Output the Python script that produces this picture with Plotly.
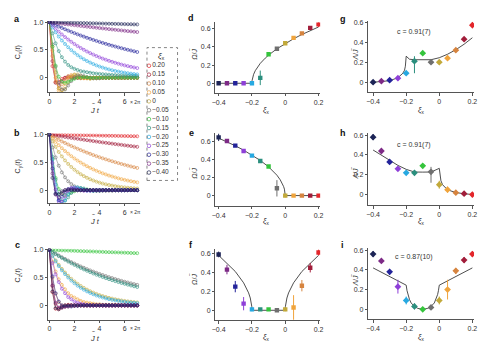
import numpy as np
import plotly.graph_objects as go

# ---------------------------------------------------------------- data
XI = [0.20, 0.15, 0.10, 0.05, 0.0, -0.05, -0.10, -0.15, -0.20, -0.25, -0.30, -0.35, -0.40]
XI_LABELS = ["0.20", "0.15", "0.10", "0.05", "0", "−0.05", "−0.10", "−0.15",
             "−0.20", "−0.25", "−0.30", "−0.35", "−0.40"]
COLORS = ["#e3262b", "#a11d3a", "#d6843f", "#f0a43c", "#c2a93a", "#6f6f6f", "#35c43c",
          "#2b8f7e", "#27a9e1", "#8e3fd8", "#23239a", "#7d2a86", "#1c2456"]

# time grid in units of 2π/J̃
T = np.arange(0, 7.0001, 0.25)

# C_x(t) for each ξ_x (same order as XI)
CX = [
    [1.00, 0.21, -0.08, -0.07, -0.02, 0.00, 0.00, 0.00, 0.00, 0.00, 0.00, 0.00, 0.00, 0.00, 0.00, 0.00, 0.00, 0.00, 0.00, 0.00, 0.00, 0.00, 0.00, 0.00, 0.00, 0.00, 0.00, 0.00, 0.00],
    [1.00, 0.30, -0.09, -0.13, -0.06, 0.00, 0.02, 0.01, 0.00, 0.00, 0.00, 0.00, 0.00, 0.00, 0.00, 0.00, 0.00, 0.00, 0.00, 0.00, 0.00, 0.00, 0.00, 0.00, 0.00, 0.00, 0.00, 0.00, 0.00],
    [1.00, 0.39, -0.07, -0.19, -0.12, -0.03, 0.03, 0.03, 0.01, 0.00, -0.01, 0.00, 0.00, 0.00, 0.00, 0.00, 0.00, 0.00, 0.00, 0.00, 0.00, 0.00, 0.00, 0.00, 0.00, 0.00, 0.00, 0.00, 0.00],
    [1.00, 0.49, 0.00, -0.23, -0.22, -0.11, 0.00, 0.05, 0.05, 0.02, 0.00, -0.01, -0.01, -0.01, 0.00, 0.00, 0.00, 0.00, 0.00, 0.00, 0.00, 0.00, 0.00, 0.00, 0.00, 0.00, 0.00, 0.00, 0.00],
    [1.00, 0.56, 0.10, -0.19, -0.27, -0.20, -0.08, 0.01, 0.06, 0.06, 0.04, 0.01, -0.01, -0.02, -0.01, -0.01, 0.00, 0.00, 0.00, 0.00, 0.00, 0.00, 0.00, 0.00, 0.00, 0.00, 0.00, 0.00, 0.00],
    [1.00, 0.60, 0.20, -0.09, -0.21, -0.21, -0.14, -0.06, 0.01, 0.04, 0.04, 0.03, 0.01, 0.00, -0.01, -0.01, -0.01, 0.00, 0.00, 0.00, 0.00, 0.00, 0.00, 0.00, 0.00, 0.00, 0.00, 0.00, 0.00],
    [1.00, 0.56, 0.22, 0.02, -0.07, -0.09, -0.07, -0.04, -0.02, 0.00, 0.00, 0.01, 0.01, 0.00, 0.00, 0.00, 0.00, 0.00, 0.00, 0.00, 0.00, 0.00, 0.00, 0.00, 0.00, 0.00, 0.00, 0.00, 0.00],
    [1.00, 0.80, 0.62, 0.48, 0.37, 0.29, 0.23, 0.19, 0.16, 0.14, 0.12, 0.11, 0.10, 0.09, 0.08, 0.075, 0.07, 0.065, 0.06, 0.055, 0.05, 0.048, 0.045, 0.042, 0.04, 0.038, 0.036, 0.034, 0.032],
    [1.00, 0.905, 0.819, 0.741, 0.670, 0.607, 0.549, 0.497, 0.449, 0.407, 0.368, 0.333, 0.301, 0.273, 0.247, 0.223, 0.202, 0.183, 0.165, 0.150, 0.135, 0.122, 0.111, 0.100, 0.091, 0.082, 0.074, 0.067, 0.061],
    [1.00, 0.939, 0.882, 0.829, 0.779, 0.732, 0.687, 0.646, 0.607, 0.570, 0.535, 0.503, 0.472, 0.444, 0.417, 0.391, 0.368, 0.345, 0.325, 0.305, 0.287, 0.269, 0.253, 0.237, 0.223, 0.210, 0.197, 0.185, 0.174],
    [1.00, 0.973, 0.947, 0.921, 0.896, 0.872, 0.848, 0.825, 0.803, 0.781, 0.760, 0.740, 0.719, 0.700, 0.681, 0.663, 0.644, 0.627, 0.610, 0.593, 0.577, 0.562, 0.546, 0.532, 0.517, 0.503, 0.490, 0.476, 0.463],
    [1.00, 0.993, 0.986, 0.979, 0.972, 0.965, 0.959, 0.952, 0.946, 0.939, 0.932, 0.926, 0.919, 0.913, 0.907, 0.900, 0.894, 0.888, 0.882, 0.875, 0.869, 0.863, 0.857, 0.851, 0.845, 0.839, 0.834, 0.828, 0.822],
    [1.00, 0.998, 0.997, 0.996, 0.994, 0.993, 0.991, 0.990, 0.988, 0.987, 0.985, 0.984, 0.982, 0.981, 0.979, 0.978, 0.976, 0.975, 0.973, 0.972, 0.970, 0.969, 0.968, 0.966, 0.965, 0.963, 0.962, 0.960, 0.959],
]

# C_y(t)
CY = [
    [1.00, 0.999, 0.998, 0.997, 0.996, 0.994, 0.993, 0.992, 0.991, 0.990, 0.989, 0.988, 0.987, 0.986, 0.985, 0.984, 0.982, 0.981, 0.980, 0.979, 0.978, 0.977, 0.976, 0.975, 0.974, 0.973, 0.971, 0.970, 0.969],
    [1.00, 0.991, 0.982, 0.974, 0.965, 0.957, 0.948, 0.940, 0.931, 0.923, 0.915, 0.907, 0.899, 0.891, 0.883, 0.875, 0.867, 0.859, 0.852, 0.844, 0.837, 0.829, 0.822, 0.815, 0.807, 0.800, 0.793, 0.786, 0.780],
    [1.00, 0.968, 0.937, 0.906, 0.877, 0.849, 0.822, 0.795, 0.770, 0.745, 0.721, 0.698, 0.675, 0.654, 0.632, 0.612, 0.592, 0.573, 0.555, 0.537, 0.520, 0.503, 0.487, 0.471, 0.456, 0.441, 0.427, 0.413, 0.400],
    [1.00, 0.932, 0.869, 0.810, 0.755, 0.704, 0.656, 0.612, 0.570, 0.532, 0.496, 0.462, 0.431, 0.401, 0.374, 0.349, 0.325, 0.303, 0.283, 0.263, 0.246, 0.229, 0.213, 0.199, 0.185, 0.173, 0.161, 0.150, 0.140],
    [1.00, 0.882, 0.779, 0.687, 0.607, 0.535, 0.472, 0.417, 0.368, 0.325, 0.287, 0.253, 0.223, 0.197, 0.174, 0.153, 0.135, 0.119, 0.105, 0.093, 0.082, 0.072, 0.064, 0.056, 0.050, 0.044, 0.039, 0.034, 0.030],
    [1.00, 0.77, 0.59, 0.44, 0.32, 0.23, 0.16, 0.11, 0.07, 0.05, 0.03, 0.01, 0.00, 0.00, -0.01, -0.01, -0.01, -0.01, -0.01, -0.01, -0.01, 0.00, 0.00, 0.00, 0.00, 0.00, 0.00, 0.00, 0.00],
    [1.00, 0.56, 0.22, 0.02, -0.07, -0.09, -0.07, -0.04, -0.02, 0.00, 0.00, 0.01, 0.01, 0.00, 0.00, 0.00, 0.00, 0.00, 0.00, 0.00, 0.00, 0.00, 0.00, 0.00, 0.00, 0.00, 0.00, 0.00, 0.00],
    [1.00, 0.60, 0.19, -0.08, -0.20, -0.19, -0.13, -0.05, 0.01, 0.03, 0.04, 0.03, 0.01, 0.00, -0.01, -0.01, -0.01, 0.00, 0.00, 0.00, 0.00, 0.00, 0.00, 0.00, 0.00, 0.00, 0.00, 0.00, 0.00],
    [1.00, 0.55, 0.10, -0.18, -0.25, -0.18, -0.07, 0.01, 0.05, 0.05, 0.03, 0.01, -0.01, -0.01, -0.01, 0.00, 0.00, 0.00, 0.00, 0.00, 0.00, 0.00, 0.00, 0.00, 0.00, 0.00, 0.00, 0.00, 0.00],
    [1.00, 0.49, 0.01, -0.21, -0.21, -0.11, -0.01, 0.04, 0.04, 0.02, 0.00, -0.01, -0.01, -0.01, 0.00, 0.00, 0.00, 0.00, 0.00, 0.00, 0.00, 0.00, 0.00, 0.00, 0.00, 0.00, 0.00, 0.00, 0.00],
    [1.00, 0.39, -0.06, -0.18, -0.12, -0.03, 0.02, 0.03, 0.01, 0.00, 0.00, 0.00, 0.00, 0.00, 0.00, 0.00, 0.00, 0.00, 0.00, 0.00, 0.00, 0.00, 0.00, 0.00, 0.00, 0.00, 0.00, 0.00, 0.00],
    [1.00, 0.30, -0.08, -0.13, -0.05, 0.00, 0.01, 0.01, 0.00, 0.00, 0.00, 0.00, 0.00, 0.00, 0.00, 0.00, 0.00, 0.00, 0.00, 0.00, 0.00, 0.00, 0.00, 0.00, 0.00, 0.00, 0.00, 0.00, 0.00],
    [1.00, 0.22, -0.07, -0.07, -0.02, 0.00, 0.01, 0.00, 0.00, 0.00, 0.00, 0.00, 0.00, 0.00, 0.00, 0.00, 0.00, 0.00, 0.00, 0.00, 0.00, 0.00, 0.00, 0.00, 0.00, 0.00, 0.00, 0.00, 0.00],
]

# C_z(t)
CZ = [
    [1.00, 0.24, -0.06, -0.07, -0.02, 0.00, 0.01, 0.00, 0.00, 0.00, 0.00, 0.00, 0.00, 0.00, 0.00, 0.00, 0.00, 0.00, 0.00, 0.00, 0.00, 0.00, 0.00, 0.00, 0.00, 0.00, 0.00, 0.00, 0.00],
    [1.00, 0.35, 0.03, -0.05, -0.04, -0.02, 0.00, 0.00, 0.00, 0.00, 0.00, 0.00, 0.00, 0.00, 0.00, 0.00, 0.00, 0.00, 0.00, 0.00, 0.00, 0.00, 0.00, 0.00, 0.00, 0.00, 0.00, 0.00, 0.00],
    [1.00, 0.50, 0.21, 0.06, 0.00, -0.02, -0.02, -0.01, -0.01, 0.00, 0.00, 0.00, 0.00, 0.00, 0.00, 0.00, 0.00, 0.00, 0.00, 0.00, 0.00, 0.00, 0.00, 0.00, 0.00, 0.00, 0.00, 0.00, 0.00],
    [1.00, 0.78, 0.61, 0.47, 0.37, 0.29, 0.22, 0.17, 0.14, 0.11, 0.08, 0.06, 0.05, 0.04, 0.03, 0.02, 0.02, 0.01, 0.01, 0.01, 0.01, 0.01, 0.00, 0.00, 0.00, 0.00, 0.00, 0.00, 0.00],
    [1.00, 0.900, 0.811, 0.730, 0.657, 0.592, 0.533, 0.479, 0.432, 0.389, 0.350, 0.315, 0.284, 0.255, 0.230, 0.207, 0.186, 0.168, 0.151, 0.136, 0.122, 0.110, 0.099, 0.089, 0.080, 0.072, 0.065, 0.059, 0.053],
    [1.00, 0.965, 0.932, 0.899, 0.868, 0.837, 0.808, 0.780, 0.753, 0.727, 0.701, 0.677, 0.653, 0.630, 0.608, 0.587, 0.567, 0.547, 0.528, 0.509, 0.492, 0.474, 0.458, 0.442, 0.426, 0.412, 0.397, 0.383, 0.370],
    [1.00, 0.998, 0.996, 0.993, 0.991, 0.989, 0.987, 0.985, 0.983, 0.980, 0.978, 0.976, 0.974, 0.972, 0.970, 0.968, 0.965, 0.963, 0.961, 0.959, 0.957, 0.955, 0.953, 0.951, 0.949, 0.947, 0.944, 0.942, 0.940],
    [1.00, 0.961, 0.924, 0.888, 0.854, 0.821, 0.789, 0.758, 0.729, 0.701, 0.674, 0.648, 0.623, 0.599, 0.575, 0.553, 0.532, 0.511, 0.491, 0.472, 0.454, 0.437, 0.420, 0.403, 0.388, 0.373, 0.358, 0.344, 0.331],
    [1.00, 0.891, 0.794, 0.708, 0.631, 0.563, 0.502, 0.447, 0.399, 0.355, 0.317, 0.282, 0.252, 0.224, 0.200, 0.178, 0.159, 0.142, 0.126, 0.112, 0.100, 0.089, 0.080, 0.071, 0.063, 0.056, 0.050, 0.045, 0.040],
    [1.00, 0.76, 0.56, 0.42, 0.30, 0.22, 0.15, 0.11, 0.07, 0.05, 0.03, 0.02, 0.01, 0.00, 0.00, 0.00, 0.00, 0.00, 0.00, 0.00, 0.00, 0.00, 0.00, 0.00, 0.00, 0.00, 0.00, 0.00, 0.00],
    [1.00, 0.52, 0.22, 0.07, 0.00, -0.02, -0.02, -0.02, -0.01, -0.01, 0.00, 0.00, 0.00, 0.00, 0.00, 0.00, 0.00, 0.00, 0.00, 0.00, 0.00, 0.00, 0.00, 0.00, 0.00, 0.00, 0.00, 0.00, 0.00],
    [1.00, 0.36, 0.05, -0.04, -0.04, -0.02, -0.01, 0.00, 0.00, 0.00, 0.00, 0.00, 0.00, 0.00, 0.00, 0.00, 0.00, 0.00, 0.00, 0.00, 0.00, 0.00, 0.00, 0.00, 0.00, 0.00, 0.00, 0.00, 0.00],
    [1.00, 0.25, -0.05, -0.07, -0.03, 0.00, 0.00, 0.00, 0.00, 0.00, 0.00, 0.00, 0.00, 0.00, 0.00, 0.00, 0.00, 0.00, 0.00, 0.00, 0.00, 0.00, 0.00, 0.00, 0.00, 0.00, 0.00, 0.00, 0.00],
]

# oscillation frequencies Ω/J̃ (same ξ order) and their errors
OMEGA_X = [0.65, 0.61, 0.55, 0.50, 0.44, 0.38, 0.32, 0.06, 0.00, 0.00, 0.00, 0.00, 0.00]
OMEGA_X_ERR = [0.03, 0.02, 0.01, 0.01, 0.01, 0.01, 0.01, 0.08, 0.02, 0.01, 0.01, 0.01, 0.01]
OMEGA_Y = [0.00, 0.00, 0.00, 0.00, 0.00, 0.08, 0.32, 0.38, 0.44, 0.49, 0.55, 0.60, 0.64]
OMEGA_Y_ERR = [0.01, 0.01, 0.01, 0.01, 0.02, 0.09, 0.01, 0.01, 0.01, 0.01, 0.01, 0.01, 0.04]
OMEGA_Z = [0.61, 0.45, 0.26, 0.03, 0.01, 0.00, 0.01, 0.01, 0.01, 0.07, 0.25, 0.43, 0.59]
OMEGA_Z_ERR = [0.03, 0.05, 0.06, 0.13, 0.02, 0.01, 0.01, 0.01, 0.02, 0.07, 0.06, 0.05, 0.03]

# decay rates Λ/J̃ and their errors (upper, lower)
LAMBDA_X = [0.57, 0.43, 0.32, 0.24, 0.20, 0.20, 0.29, 0.21, 0.09, 0.04, 0.02, 0.01, 0.00]
LAMBDA_X_ERR_UP = [0.03, 0.02, 0.02, 0.01, 0.01, 0.01, 0.01, 0.05, 0.02, 0.01, 0.01, 0.01, 0.01]
LAMBDA_X_ERR_DN = [0.03, 0.02, 0.02, 0.01, 0.01, 0.01, 0.01, 0.12, 0.02, 0.01, 0.01, 0.01, 0.01]
LAMBDA_Y = [0.00, 0.01, 0.02, 0.05, 0.10, 0.23, 0.29, 0.22, 0.22, 0.26, 0.33, 0.44, 0.58]
LAMBDA_Y_ERR_UP = [0.01, 0.01, 0.01, 0.03, 0.04, 0.05, 0.01, 0.01, 0.01, 0.01, 0.01, 0.02, 0.03]
LAMBDA_Y_ERR_DN = [0.01, 0.01, 0.01, 0.03, 0.04, 0.11, 0.01, 0.01, 0.01, 0.01, 0.01, 0.02, 0.03]
LAMBDA_Z = [0.56, 0.50, 0.39, 0.20, 0.09, 0.02, 0.00, 0.03, 0.09, 0.23, 0.38, 0.49, 0.56]
LAMBDA_Z_ERR = [0.03, 0.03, 0.03, 0.10, 0.04, 0.01, 0.01, 0.03, 0.04, 0.07, 0.03, 0.02, 0.03]

# theory curves
TH_OX_XI = [-0.40, -0.20, -0.199, -0.195, -0.19, -0.18, -0.17, -0.15, -0.12, -0.10, -0.05, 0.0, 0.05, 0.10, 0.15, 0.20]
TH_OX = [0.0, 0.0, 0.031, 0.069, 0.098, 0.139, 0.170, 0.219, 0.277, 0.310, 0.380, 0.438, 0.490, 0.537, 0.580, 0.620]
TH_OY_XI = [-0.40, -0.35, -0.30, -0.25, -0.20, -0.15, -0.10, -0.05, -0.03, -0.02, -0.01, -0.005, -0.001, 0.0, 0.20]
TH_OY = [0.632, 0.592, 0.548, 0.500, 0.447, 0.387, 0.316, 0.224, 0.173, 0.141, 0.100, 0.071, 0.032, 0.0, 0.0]
TH_OZ_XI = [-0.40, -0.35, -0.30, -0.25, -0.23, -0.22, -0.21, -0.205, -0.201, -0.20, 0.0, 0.001, 0.005, 0.01, 0.02, 0.03, 0.05, 0.10, 0.15, 0.20]
TH_OZ = [0.58, 0.50, 0.41, 0.29, 0.225, 0.184, 0.13, 0.092, 0.041, 0.0, 0.0, 0.041, 0.092, 0.13, 0.184, 0.225, 0.29, 0.41, 0.50, 0.58]
TH_LX_XI = [-0.40, -0.35, -0.30, -0.25, -0.22, -0.21, -0.205, -0.20, -0.18, -0.15, -0.10, -0.05, 0.0, 0.05, 0.10, 0.15, 0.20]
TH_LX = [0.0, 0.004, 0.015, 0.045, 0.09, 0.12, 0.16, 0.26, 0.23, 0.225, 0.225, 0.225, 0.245, 0.28, 0.325, 0.38, 0.445]
TH_LY_XI = [-0.40, -0.35, -0.30, -0.25, -0.20, -0.15, -0.10, -0.05, 0.0, 0.005, 0.01, 0.02, 0.04, 0.07, 0.10, 0.15, 0.20]
TH_LY = [0.45, 0.40, 0.35, 0.295, 0.255, 0.228, 0.227, 0.228, 0.265, 0.18, 0.14, 0.10, 0.065, 0.037, 0.022, 0.008, 0.002]
TH_LZ_XI = [-0.40, -0.20, -0.195, -0.19, -0.18, -0.17, -0.15, -0.13, -0.10, -0.07, -0.05, -0.03, -0.02, -0.01, -0.005, 0.0, 0.20]
TH_LZ = [0.42, 0.245, 0.19, 0.15, 0.10, 0.065, 0.03, 0.01, 0.0, 0.01, 0.03, 0.065, 0.10, 0.15, 0.19, 0.245, 0.42]

C_LABELS = ["c = 0.91(7)", "c = 0.91(7)", "c = 0.87(10)"]

# ---------------------------------------------------------------- layout helpers
W, H = 500, 347
FONT = "Liberation Sans, Arial, sans-serif"
TXT = "#333333"
AX = "#555555"


def px(x0, x1):
    return [x0 / W, x1 / W]


def py(top, bottom):
    return [1 - bottom / H, 1 - top / H]


fig = go.Figure()
layout = dict(
    width=W, height=H, margin=dict(l=0, r=0, t=0, b=0),
    paper_bgcolor="white", plot_bgcolor="white", showlegend=False,
    font=dict(family=FONT, size=7, color=TXT),
)


def axis(n, xdom, ydom, xr, yr, xt, xtt, yt, ytt):
    common = dict(showline=True, linecolor=AX, linewidth=0.7, ticks="outside",
                  ticklen=2.5, tickwidth=0.7, tickcolor=AX, showgrid=False,
                  zeroline=False, tickfont=dict(size=7, color=TXT, family=FONT))
    sx = "" if n == 1 else str(n)
    layout["xaxis" + sx] = dict(domain=xdom, range=xr, anchor="y" + sx,
                                tickvals=xt, ticktext=xtt, **common)
    layout["yaxis" + sx] = dict(domain=ydom, range=yr, anchor="x" + sx,
                                tickvals=yt, ticktext=ytt, **common)
    return "x" + sx, "y" + sx


# time-correlation panels a, b, c
t_ticks = [0, 2, 4, 6]
t_text = ["0", "2", "4", "6"]
c_ticks = [0, 0.5, 1.0]
c_text = ["0", "0.5", "1.0"]
corr_axes = [
    axis(1, px(44.7, 138.3), py(18.2, 90), [-0.1, 7.25], [-0.26, 1.02], t_ticks, t_text, c_ticks, c_text),
    axis(2, px(44.7, 138.3), py(131.6, 201.7), [-0.1, 7.25], [-0.23, 1.02], t_ticks, t_text, c_ticks, c_text),
    axis(3, px(44.7, 138.3), py(247.9, 319.3), [-0.1, 7.25], [-0.255, 1.02], t_ticks, t_text, c_ticks, c_text),
]
for (xa, ya), curves in zip(corr_axes, [CX, CY, CZ]):
    for vals, col in zip(curves, COLORS):
        fig.add_trace(go.Scatter(
            x=T[:len(vals)], y=vals, xaxis=xa, yaxis=ya, mode="lines+markers",
            line=dict(color=col, width=0.5),
            marker=dict(symbol="circle-open", size=3.0, color=col, line=dict(width=0.6, color=col)),
            hoverinfo="skip"))

# frequency panels d, e, f and decay panels g, h, i
xi_ticks = [-0.4, -0.2, 0, 0.2]
xi_text = ["−0.4", "−0.2", "0", "0.2"]
o_ticks = [0, 0.2, 0.4, 0.6]
o_text = ["0", "0.2", "0.4", "0.6"]
freq_axes = [
    axis(4, px(214.3, 320.7), py(19.6, 90.6), [-0.42, 0.21], [-0.105, 0.67], xi_ticks, xi_text, o_ticks, o_text),
    axis(5, px(214.3, 320.7), py(131.0, 204.8), [-0.42, 0.21], [-0.115, 0.69], xi_ticks, xi_text, o_ticks, o_text),
    axis(6, px(214.3, 320.7), py(247.9, 320.0), [-0.42, 0.21], [-0.105, 0.65], xi_ticks, xi_text, o_ticks, o_text),
]
decay_axes = [
    axis(7, px(369.3, 476.7), py(18.4, 90.0), [-0.43, 0.21], [-0.1, 0.61], xi_ticks, xi_text, o_ticks, o_text),
    axis(8, px(369.3, 476.7), py(131.3, 204.0), [-0.43, 0.21], [-0.107, 0.62], xi_ticks, xi_text, o_ticks, o_text),
    axis(9, px(369.3, 476.7), py(247.3, 319.0), [-0.43, 0.21], [-0.1, 0.62], xi_ticks, xi_text, o_ticks, o_text),
]

freq_sets = [
    (TH_OX_XI, TH_OX, OMEGA_X, OMEGA_X_ERR, OMEGA_X_ERR),
    (TH_OY_XI, TH_OY, OMEGA_Y, OMEGA_Y_ERR, OMEGA_Y_ERR),
    (TH_OZ_XI, TH_OZ, OMEGA_Z, OMEGA_Z_ERR, OMEGA_Z_ERR),
]
decay_sets = [
    (TH_LX_XI, TH_LX, LAMBDA_X, LAMBDA_X_ERR_UP, LAMBDA_X_ERR_DN),
    (TH_LY_XI, TH_LY, LAMBDA_Y, LAMBDA_Y_ERR_UP, LAMBDA_Y_ERR_DN),
    (TH_LZ_XI, TH_LZ, LAMBDA_Z, LAMBDA_Z_ERR, LAMBDA_Z_ERR),
]


def draw_points(axes, sets, symbol, size):
    for (xa, ya), (txi, tval, vals, eup, edn) in zip(axes, sets):
        fig.add_trace(go.Scatter(x=txi, y=tval, xaxis=xa, yaxis=ya, mode="lines",
                                 line=dict(color="#222222", width=0.8), hoverinfo="skip"))
        for xi, v, u, d, col in zip(XI, vals, eup, edn, COLORS):
            fig.add_trace(go.Scatter(
                x=[xi], y=[v], xaxis=xa, yaxis=ya, mode="markers",
                marker=dict(symbol=symbol, size=size, color=col, line=dict(width=0)),
                error_y=dict(type="data", symmetric=False, array=[u], arrayminus=[d],
                             color=col, thickness=1.0, width=0),
                hoverinfo="skip"))


draw_points(freq_axes, freq_sets, "square", 4.4)
draw_points(decay_axes, decay_sets, "diamond", 5.2)

# legend column with open circles
layout["xaxis10"] = dict(domain=px(145, 176), range=[0, 31], visible=False, anchor="y10")
layout["yaxis10"] = dict(domain=py(45, 179), range=[12.89, -2.04], visible=False, anchor="x10")
fig.add_trace(go.Scatter(
    x=[2.0] * len(XI), y=list(range(len(XI))), xaxis="x10", yaxis="y10",
    mode="markers+text", text=XI_LABELS, textposition="middle right",
    textfont=dict(size=6.5, color=TXT, family=FONT),
    marker=dict(symbol="circle-open", size=3.6, color=COLORS, line=dict(width=0.7, color=COLORS)),
    hoverinfo="skip"))

shapes = [dict(type="rect", xref="paper", yref="paper",
               x0=145 / W, x1=176 / W, y0=1 - 179 / H, y1=1 - 45 / H,
               line=dict(color="#666666", width=0.8, dash="dot"))]

# ---------------------------------------------------------------- annotations
ann = []


def note(x, y, text, size=7, bold=False, angle=0):
    if bold:
        text = "<b>" + text + "</b>"
    ann.append(dict(x=x / W, y=1 - y / H, xref="paper", yref="paper", text=text,
                    showarrow=False, textangle=angle, xanchor="center", yanchor="middle",
                    font=dict(size=size, color="#111111" if bold else TXT, family=FONT)))


for letter, (x, y) in zip("abcdefghi", [(13, 16), (13, 131), (14, 244), (190, 15), (190, 131),
                                         (190, 244), (344, 16), (344, 131), (343, 244)]):
    note(x, y, letter, size=9, bold=True)

# "J̃ t": the tilde is set as its own small glyph just above the J
for y_title, y_tick, y_c, sub in [(108, 99.5, 50, "x"), (220, 211, 165, "y"), (338, 328, 275, "z")]:
    note(92, y_title, "<i>J</i> <i>t</i>", size=7.5)
    note(90.4, y_title - 7.0, "~", size=5)
    note(133, y_tick, "× 2π", size=5)
    note(14, y_c, "C<sub>" + sub + "</sub>(<i>t</i>)", size=7, angle=-90)

for y_title, y_c in [(107.5, 52), (219.5, 172), (337, 279)]:
    note(266, y_title, "<i>ξ</i><sub>x</sub>", size=7.5)
    note(193, y_c, "<i>Ω</i>/<i>J</i>", size=7, angle=-90)
    note(187.2, y_c - 5.0, "~", size=5, angle=-90)
for (y_title, y_c), lab, y_lab in zip([(107.5, 52), (219.5, 172), (337, 280)], C_LABELS, [29, 143, 256]):
    note(423, y_title, "<i>ξ</i><sub>x</sub>", size=7.5)
    note(357, y_c, "<i>Λ</i>/<i>J</i>", size=7, angle=-90)
    note(351.2, y_c - 5.0, "~", size=5, angle=-90)
    note(416, y_lab, lab, size=7)

note(160, 53, "<i>ξ</i><sub>x</sub>", size=8)

layout["annotations"] = ann
layout["shapes"] = shapes
fig.update_layout(**layout)
fig.write_html("out.html")
